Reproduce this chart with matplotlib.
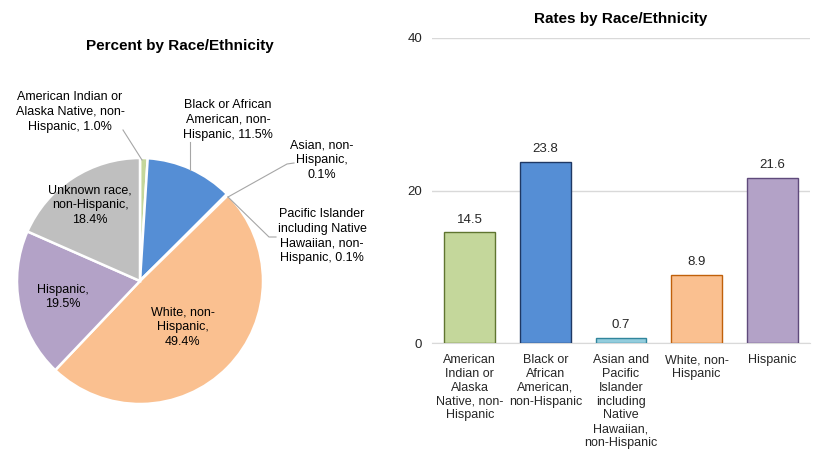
import matplotlib.pyplot as plt

plt.rcParams['font.family'] = ['Liberation Sans', 'DejaVu Sans']

# pie data (clockwise from 12 o'clock)
pie_labels = ['American Indian or\nAlaska Native, non-\nHispanic, 1.0%',
              'Black or African\nAmerican, non-\nHispanic, 11.5%',
              'Asian, non-\nHispanic,\n0.1%',
              'Pacific Islander\nincluding Native\nHawaiian, non-\nHispanic, 0.1%',
              'White, non-\nHispanic,\n49.4%',
              'Hispanic,\n19.5%',
              'Unknown race,\nnon-Hispanic,\n18.4%']
pie_values = [1.0, 11.5, 0.1, 0.1, 49.4, 19.5, 18.4]
pie_colors = ['#C4D79B', '#558ED5', '#93CDDD', '#4BACC6', '#FAC090', '#B3A2C7', '#BFBFBF']

# bar data
bar_labels = ['American\nIndian or\nAlaska\nNative, non-\nHispanic',
              'Black or\nAfrican\nAmerican,\nnon-Hispanic',
              'Asian and\nPacific\nIslander\nincluding\nNative\nHawaiian,\nnon-Hispanic',
              'White, non-\nHispanic',
              'Hispanic']
bar_values = [14.5, 23.8, 0.7, 8.9, 21.6]
bar_colors = ['#C4D79B', '#558ED5', '#93CDDD', '#FAC090', '#B3A2C7']
bar_edges = ['#5F7530', '#1F3864', '#31859C', '#C0600A', '#5F4A7B']

fig = plt.figure(figsize=(8.17, 4.5), dpi=100)

# ---- pie, axes in pixel units
ax = fig.add_axes([0, 0, 0.5, 1])
cx, cy, r = 140, 450 - 281, 123
ax.pie(pie_values, colors=pie_colors, startangle=90, counterclock=False,
       center=(cx, cy), radius=r, frame=True,
       wedgeprops=dict(edgecolor='white', linewidth=1.8))
ax.set_xlim(0, 408.5)
ax.set_ylim(0, 450)
ax.set_aspect('equal')
ax.axis('off')
ax.text(180, 450 - 46, 'Percent by Race/Ethnicity', ha='center', va='center',
        fontsize=11, fontweight='bold')

fs = 9
ls = 1.3
# outside labels
ax.text(70, 450 - 112, pie_labels[0], ha='center', va='center', fontsize=fs, linespacing=ls)
ax.plot([123, 142], [450 - 130, 450 - 160], color='#A6A6A6', lw=0.8)
ax.text(228, 450 - 120, pie_labels[1], ha='center', va='center', fontsize=fs, linespacing=ls)
ax.plot([190, 190], [450 - 142, 450 - 170], color='#A6A6A6', lw=0.8)
ax.text(322, 450 - 160, pie_labels[2], ha='center', va='center', fontsize=fs, linespacing=ls)
ax.plot([294, 287, 228], [450 - 163, 450 - 164, 450 - 197], color='#A6A6A6', lw=0.8)
ax.text(322, 450 - 236, pie_labels[3], ha='center', va='center', fontsize=fs, linespacing=ls)
ax.plot([276, 269, 228], [450 - 237, 450 - 237, 450 - 197], color='#A6A6A6', lw=0.8)
# inside labels
ax.text(183, 450 - 327, pie_labels[4], ha='center', va='center', fontsize=fs, linespacing=ls)
ax.text(63, 450 - 297, pie_labels[5], ha='center', va='center', fontsize=fs, linespacing=ls)
ax.text(90, 450 - 205, pie_labels[6], ha='center', va='center', fontsize=fs, linespacing=ls)

# ---- bars
bx = fig.add_axes([432 / 817, 107 / 450, 378 / 817, 305 / 450])
pos = range(len(bar_values))
bx.bar(pos, bar_values, width=0.67, color=bar_colors, edgecolor=bar_edges, linewidth=1, zorder=3)
for i, v in zip(pos, bar_values):
    bx.text(i, v + 0.9, f'{v:.1f}', ha='center', va='bottom', fontsize=9.5, color='#262626')
bx.set_xlim(-0.5, len(bar_values) - 0.5)
bx.set_ylim(0, 40)
bx.set_yticks([0, 20, 40])
bx.grid(axis='y', color='#D9D9D9', lw=1, zorder=0)
for s in ['top', 'right', 'left']:
    bx.spines[s].set_visible(False)
bx.spines['bottom'].set_color('#D9D9D9')
bx.tick_params(axis='both', length=0, labelsize=9.5, colors='#262626')
bx.tick_params(axis='y', pad=7)
bx.tick_params(axis='x', pad=8, labelsize=9)
bx.set_xticks(list(pos))
bx.set_xticklabels(bar_labels, linespacing=1.2)
bx.set_title('Rates by Race/Ethnicity', fontsize=11, fontweight='bold', pad=11)

fig.savefig('out.png', dpi=100)
